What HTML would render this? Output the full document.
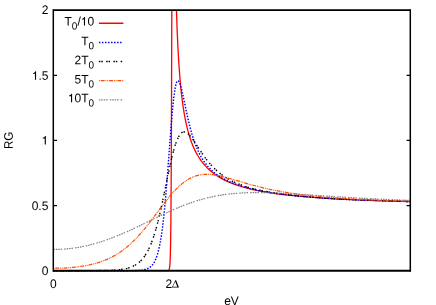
<!DOCTYPE html>
<html><head><meta charset="utf-8"><title>RG vs eV</title>
<style>
html,body{margin:0;padding:0;background:#fff;}
body{width:436px;height:305px;overflow:hidden;}
svg{display:block;will-change:transform;}
text{font-family:"Liberation Sans",sans-serif;font-size:12px;fill:#000;}
.sub{font-size:10px;}
</style></head><body>
<svg width="436" height="305" viewBox="0 0 436 305">
<rect x="0" y="0" width="436" height="305" fill="#fff"/>
<!-- curves -->
<g fill="none" stroke-linejoin="round">
<path d="M53.40 270.70L166.45 270.70L167.61 270.65L168.24 270.51L168.68 270.23L169.04 269.69L169.42 268.39L169.72 266.35L169.98 263.22L170.19 258.96L170.56 245.65L170.85 224.63L171.12 192.31L171.36 147.72L171.81 10.10 M176.46 10.10L177.16 30.36L177.97 48.30L178.92 64.58L179.99 78.82L181.22 91.65L181.90 97.54L182.65 103.38L183.41 108.57L184.24 113.69L185.11 118.47L186.07 123.13L187.06 127.45L188.13 131.63L189.24 135.50L190.43 139.22L191.70 142.77L193.05 146.15L194.48 149.36L195.99 152.40L197.58 155.27L199.25 157.98L201.03 160.59L202.90 163.04L204.88 165.39L206.99 167.63L209.12 169.68L211.50 171.74L213.89 173.59L216.57 175.47L219.25 177.16L222.22 178.85L225.20 180.37L228.48 181.87L232.05 183.35L235.62 184.67L239.49 185.96L243.36 187.12L247.53 188.24L252 189.32L256.76 190.36L261.53 191.29L266.59 192.18L271.95 193.02L277.60 193.83L283.56 194.59L296.36 195.97L310.65 197.21L326.73 198.33L344.30 199.30L363.95 200.17L385.98 200.93L410.40 201.60" stroke="#ff0000" stroke-width="1.3"/>
<path d="M53.40 270.70L125.16 270.68L133.49 270.59L138.85 270.37L141.53 270.11L143.92 269.73L146 269.19L147.79 268.50L149.27 267.69L150.76 266.58L152.25 265.07L153.44 263.49L154.34 262.03L154.93 260.90L156.12 258.19L157.31 254.78L158.21 251.66L159.40 246.63L160.29 242.08L161.29 236.10L162.25 229.44L163.12 222.45L163.99 214.56L164.87 205.76L165.74 196.08L167.41 175.47L171.15 125.58L172.20 113.12L173.16 103.17L173.75 97.88L174.33 93.36L174.90 89.59L175.47 86.50L176.04 84.11L176.62 82.37L176.92 81.74L177.22 81.28L177.52 80.98L177.83 80.84L178.21 80.88L178.60 81.17L179 81.69L179.40 82.41L180.27 84.66L181.22 87.91L182.89 94.95L186.42 111.67L188.17 119.54L190 127.04L191.82 133.71L193.41 138.85L195.04 143.54L196.75 147.88L198.57 151.96L199.76 154.34L200.99 156.61L202.26 158.75L203.57 160.78L204.92 162.70L206.35 164.56L207.86 166.37L209.42 168.07L210.91 169.58L212.70 171.23L214.48 172.75L216.57 174.36L218.65 175.83L220.73 177.18L222.82 178.41L225.20 179.71L227.88 181.04L230.56 182.26L233.54 183.49L236.52 184.60L239.49 185.63L242.77 186.66L246.34 187.68L249.91 188.61L257.66 190.37L266.29 192L275.52 193.44L285.64 194.76L296.66 195.94L308.87 197.03L321.97 197.99L336.56 198.88L352.34 199.66L369.91 200.38L389.26 201.02L410.40 201.59" stroke="#0000ff" stroke-width="1.45" stroke-dasharray="1.5 1.53"/>
<path d="M53.40 270.70L86.15 270.67L101.64 270.54L107.59 270.40L112.35 270.20L116.52 269.92L120.10 269.56L123.67 269.04L126.94 268.35L129.92 267.49L132.60 266.45L134.98 265.26L137.36 263.74L139.45 262.08L141.53 260.05L143.32 257.96L144.81 255.92L146.60 253.09L148.08 250.36L149.57 247.26L151.06 243.76L152.55 239.83L153.74 236.36L155.23 231.59L156.72 226.35L158.21 220.64L159.70 214.47L162.72 200.75L168 174.96L169.99 165.59L172.10 156.44L174.02 149.12L175.22 145.16L176.40 141.75L177.56 138.89L178.72 136.53L179.87 134.70L180.47 133.93L181.06 133.30L181.66 132.79L182.26 132.39L182.85 132.11L183.49 131.93L184.20 131.87L184.96 131.96L185.71 132.19L186.50 132.58L187.34 133.13L188.17 133.81L189.04 134.65L190 135.69L191.51 137.56L193.21 139.92L201.91 153.10L204.37 156.62L206.71 159.75L209.42 163.10L212.10 166.11L214.78 168.84L217.76 171.56L220.73 173.98L224.01 176.34L227.28 178.42L230.86 180.41L234.73 182.30L238.60 183.96L242.77 185.52L247.23 186.98L252.59 188.51L258.55 189.96L264.80 191.26L271.65 192.49L279.09 193.63L287.13 194.69L295.77 195.66L305 196.55L315.12 197.39L325.84 198.15L337.45 198.85L349.96 199.49L363.36 200.08L377.95 200.62L410.40 201.56" stroke="#000000" stroke-width="1.4" stroke-dasharray="1.5 0.9 1.5 3.36"/>
<path d="M53.40 268.23L58.46 268.18L63.52 268.01L68.59 267.72L73.35 267.32L77.82 266.83L82.28 266.21L86.45 265.50L90.62 264.63L94.49 263.68L98.06 262.66L101.64 261.47L105.21 260.12L108.48 258.71L111.76 257.12L115.03 255.33L118.01 253.53L120.69 251.76L123.37 249.83L126.05 247.74L128.43 245.74L130.81 243.61L133.49 241.06L136.17 238.34L138.85 235.46L143.32 230.33L148.08 224.44L152.55 218.64L162.96 204.79L168.08 198.27L170.72 195.10L173.22 192.25L175.63 189.67L177.96 187.34L180.71 184.83L183.41 182.62L186.11 180.69L188.77 179.04L191.47 177.65L194.17 176.52L196.94 175.62L199.76 174.97L201.75 174.65L203.81 174.45L205.92 174.35L208.10 174.37L210.31 174.49L212.70 174.72L215.08 175.05L217.76 175.53L221.93 176.43L226.39 177.57L231.45 178.98L244.55 182.85L251.40 184.80L258.85 186.77L266.29 188.55L274.92 190.39L283.56 191.99L292.79 193.47L302.32 194.76L312.44 195.92L323.16 196.96L334.77 197.89L347.28 198.73L360.97 199.49L375.86 200.17L392.24 200.79L410.40 201.35" stroke="#ff4d00" stroke-width="1.25" stroke-dasharray="0.9 0.92 3.9 0.92 0.9 0.83"/>
<path d="M53.40 249.53L59.35 249.41L65.31 249.04L71.26 248.43L77.22 247.57L83.17 246.47L89.13 245.14L95.08 243.57L101.34 241.68L106.99 239.77L112.65 237.68L118.61 235.30L124.56 232.76L130.22 230.21L136.47 227.28L158.21 216.71L167.17 212.47L176.47 208.34L180.79 206.55L184.99 204.90L190.08 203.03L195.08 201.34L200 199.84L204.92 198.48L209.72 197.31L214.78 196.23L219.84 195.31L224.90 194.54L229.96 193.91L235.03 193.42L240.39 193.03L245.75 192.77L251.40 192.62L257.36 192.57L263.61 192.63L270.16 192.79L280.28 193.21L291.90 193.84L338.05 196.85L361.87 198.26L385.69 199.45L410.40 200.45" stroke="#808080" stroke-width="1.25" stroke-dasharray="1.5 0.92 1.5 0.92 1.5 0.92 1.5 2.13"/>
</g>
<!-- legend samples -->
<g fill="none">
<path d="M98.9 23.27H123.4" stroke="#ff0000" stroke-width="1.5"/>
<path d="M98.9 42.46H122.6" stroke="#0000ff" stroke-width="1.45" stroke-dasharray="1.5 1.53"/>
<path d="M98.9 61.5H122.7" stroke="#000000" stroke-width="1.4" stroke-dasharray="1.5 0.9 1.5 3.36"/>
<path d="M98.9 80.57H123.4" stroke="#ff4d00" stroke-width="1.25" stroke-dasharray="0.9 0.92 3.9 0.92 0.9 0.83"/>
<path d="M98.9 99.76H122.6" stroke="#808080" stroke-width="1.25" stroke-dasharray="1.5 0.92 1.5 0.92 1.5 0.92 1.5 2.13"/>
</g>
<!-- border and ticks -->
<g fill="none" stroke="#000" stroke-width="1.5">
<path d="M53.3 9.3V271.65M410.3 9.3V271.65"/>
<path d="M53.3 10.1H410.3" stroke-width="1.6"/>
<path d="M53.3 270.75H410.3" stroke-width="1.8"/>
<path d="M53.3 205.56h3.7M410.3 205.56h-3.7M53.3 140.43h3.7M410.3 140.43h-3.7M53.3 75.29h3.7M410.3 75.29h-3.7" stroke-width="1.3"/>
</g>

<!-- legend text -->
<g transform="rotate(0.03 80 60)">
<text transform="translate(80.7 25.5) scale(1 1.035)" text-anchor="end">T<tspan class="sub" dy="3.96">0</tspan><tspan dy="-3.96">/</tspan></text>
<path transform="translate(80.70 25.5)" d="M4.33 0H3.2V-5.98H1.21V-6.72C2.28 -6.76 3.14 -7.08 3.55 -8.44H4.33Z"/>
<text transform="translate(94.05 25.5) scale(1 1.035)" text-anchor="end">0</text>
<text transform="translate(94.05 45.2) scale(1 1.035)" text-anchor="end">T<tspan class="sub" dy="3.96">0</tspan></text>
<text transform="translate(94.05 64.3) scale(1 1.035)" text-anchor="end">2T<tspan class="sub" dy="3.96">0</tspan></text>
<text transform="translate(94.05 83.4) scale(1 1.035)" text-anchor="end">5T<tspan class="sub" dy="3.96">0</tspan></text>
<path transform="translate(67.82 102.3)" d="M4.33 0H3.2V-5.98H1.21V-6.72C2.28 -6.76 3.14 -7.08 3.55 -8.44H4.33Z"/>
<text transform="translate(94.05 102.3) scale(1 1.035)" text-anchor="end">0T<tspan class="sub" dy="3.96">0</tspan></text>
</g>
<!-- y tick labels -->
<g transform="rotate(0.03 40 140)">
<text transform="translate(48.4 13.9) scale(1 1.035)" text-anchor="end">2</text>
<path transform="translate(31.72 79.7)" d="M4.33 0H3.2V-5.98H1.21V-6.72C2.28 -6.76 3.14 -7.08 3.55 -8.44H4.33Z"/>
<text transform="translate(48.4 79.7) scale(1 1.035)" text-anchor="end">.5</text>
<path transform="translate(41.53 144.4)" d="M4.33 0H3.2V-5.98H1.21V-6.72C2.28 -6.76 3.14 -7.08 3.55 -8.44H4.33Z"/>
<text transform="translate(48.4 210.0) scale(1 1.035)" text-anchor="end">0.5</text>
<text transform="translate(48.4 274.95) scale(1 1.035)" text-anchor="end">0</text>
</g>
<!-- x labels -->
<g transform="rotate(0.03 230 290)">
<text transform="translate(53.4 288.15) scale(1 1.035)" text-anchor="middle">0</text>
<text transform="translate(165.6 288.1) scale(1 1.035)" text-anchor="start">2</text>
<path fill-rule="evenodd" d="M171.9 287.6L175.3 280.3H176.1L179 287.6ZM172.78 286.9H177.32L175.23 281.63Z"/>
<text transform="translate(231.5 304.9) scale(1 1.035)" text-anchor="middle">eV</text>
</g>
<text transform="translate(12.85 140.3) rotate(-90.03) scale(0.97 1.035)" text-anchor="middle">RG</text>
</svg>
</body></html>
